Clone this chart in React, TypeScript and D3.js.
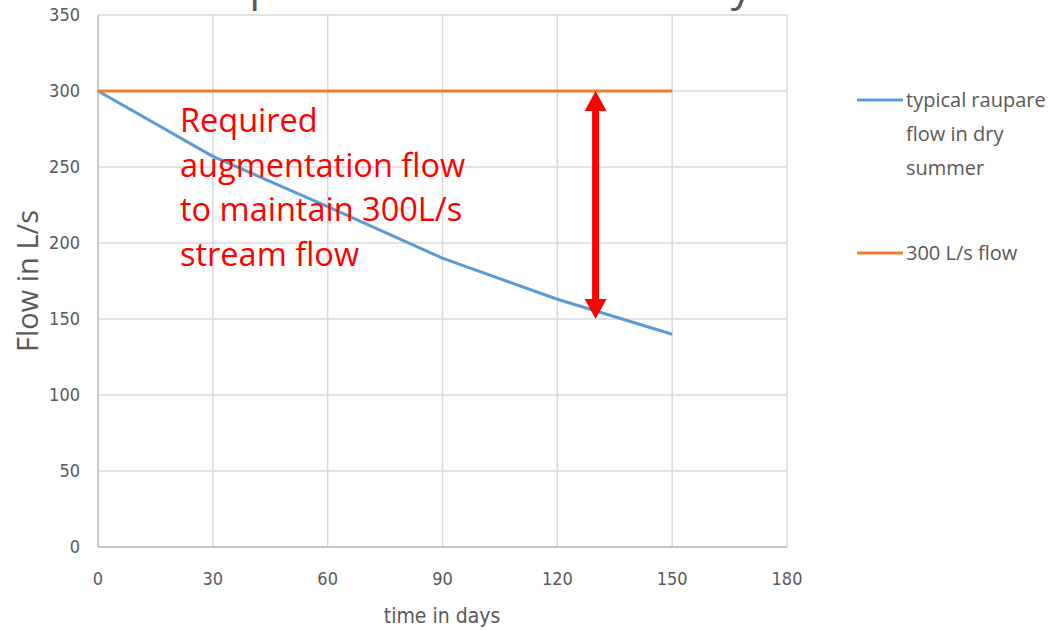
import React from "react";
import * as d3 from "d3";

// Flow data (days vs L/s)
const days = [0, 30, 60, 90, 120, 150];
const raupareFlow = [300, 257, 224, 190, 163, 140];
const targetFlow = [300, 300, 300, 300, 300, 300];
const xTicks = [0, 30, 60, 90, 120, 150, 180];
const yTicks = [0, 50, 100, 150, 200, 250, 300, 350];
const seriesNames = ["typical raupare flow in dry summer", "300 L/s flow"];
const legendLines = [["typical raupare", "flow in dry", "summer"], ["300 L/s flow"]];
const noteLines = ["Required", "augmentation flow", "to maintain 300L/s", "stream flow"];
const arrowDay = 130;
const arrowFrom = 300;
const arrowTo = 150;
const titleText = "Raupare Stream flow in a dry summer";

const W = 1050;
const H = 630;
const margin = { left: 98, right: 787, top: 15, bottom: 547 };

const BLUE = "#5b9bd5";
const ORANGE = "#ed7d31";
const GRID = "#d9d9d9";
const TEXT = "#595959";
const RED = "#ff0000";
const tickFont = "'Liberation Sans Narrow', 'DejaVu Sans Condensed', 'Open Sans', sans-serif";
const labelFont = "'Open Sans', 'Noto Sans', sans-serif";

export default function App() {
  const x = d3.scaleLinear().domain([0, 180]).range([margin.left, margin.right]);
  const y = d3.scaleLinear().domain([0, 350]).range([margin.bottom, margin.top]);

  const line = d3
    .line<number>()
    .x((_, i) => x(days[i]))
    .y((d) => y(d));

  const ax = x(arrowDay);
  const yTop = y(arrowFrom);
  const yBot = y(arrowTo);
  const headH = 20;
  const headW = 11;
  const shaftW = 7;

  return (
    <div style={{ position: "fixed", left: 0, top: 0, width: W, height: H, background: "#fff" }}>
      <svg width={W} height={H} style={{ display: "block" }}>
        <rect width={W} height={H} fill="#fff" />
        {/* Title (runs above the top edge) */}
        <text x={552} y={0} textAnchor="middle" fontFamily={labelFont} fontSize={43} fill={TEXT}>
          {titleText}
        </text>

        {/* Gridlines */}
        {yTicks.map((t) => (
          <line key={"gy" + t} x1={margin.left} x2={margin.right} y1={y(t)} y2={y(t)} stroke={GRID} strokeWidth={1.5} />
        ))}
        {xTicks.map((t) => (
          <line key={"gx" + t} x1={x(t)} x2={x(t)} y1={margin.top} y2={margin.bottom} stroke={GRID} strokeWidth={1.5} />
        ))}
        {/* Axis lines */}
        <line x1={margin.left} x2={margin.left} y1={margin.top} y2={margin.bottom} stroke="#bfbfbf" strokeWidth={1.5} />
        <line x1={margin.left} x2={margin.right} y1={margin.bottom} y2={margin.bottom} stroke="#bfbfbf" strokeWidth={1.5} />

        {/* Tick labels */}
        {yTicks.map((t) => (
          <text key={"ty" + t} x={80} y={y(t) + 6} textAnchor="end" fontFamily={tickFont} fontSize={18} fill={TEXT}>
            {t}
          </text>
        ))}
        {xTicks.map((t) => (
          <text key={"tx" + t} x={x(t)} y={585} textAnchor="middle" fontFamily={tickFont} fontSize={18} fill={TEXT}>
            {t}
          </text>
        ))}

        {/* Axis titles */}
        <text x={442} y={623} textAnchor="middle" fontFamily={tickFont} fontSize={21} fill={TEXT}>
          time in days
        </text>
        <text
          transform={`translate(38, ${281}) rotate(-90)`}
          textAnchor="middle"
          fontFamily={labelFont}
          fontSize={29}
          fill={TEXT}
        >
          Flow in L/s
        </text>

        {/* Series */}
        <path d={line(raupareFlow) || ""} fill="none" stroke={BLUE} strokeWidth={3} strokeLinejoin="round" />
        <path d={line(targetFlow) || ""} fill="none" stroke={ORANGE} strokeWidth={3} />

        {/* Annotation */}
        {noteLines.map((s, i) => (
          <text key={"n" + i} x={180} y={132 + i * 44.5} fontFamily={labelFont} fontSize={32.5} fill={RED}>
            {s}
          </text>
        ))}
        <rect x={ax - shaftW / 2} y={yTop + headH - 1} width={shaftW} height={yBot - yTop - 2 * headH + 2} fill={RED} />
        <path d={`M${ax},${yTop} L${ax + headW},${yTop + headH} L${ax - headW},${yTop + headH} Z`} fill={RED} />
        <path d={`M${ax},${yBot} L${ax + headW},${yBot - headH} L${ax - headW},${yBot - headH} Z`} fill={RED} />

        {/* Legend */}
        {seriesNames.map((name, i) => {
          const ly = i === 0 ? 100 : 253;
          return (
            <g key={name}>
              <line x1={857} x2={903} y1={ly} y2={ly} stroke={i === 0 ? BLUE : ORANGE} strokeWidth={3} />
              {legendLines[i].map((s, j) => (
                <text key={j} x={906} y={ly + 7 + j * 34} fontFamily={labelFont} fontSize={20} fill={TEXT}>
                  {s}
                </text>
              ))}
            </g>
          );
        })}
      </svg>
    </div>
  );
}
